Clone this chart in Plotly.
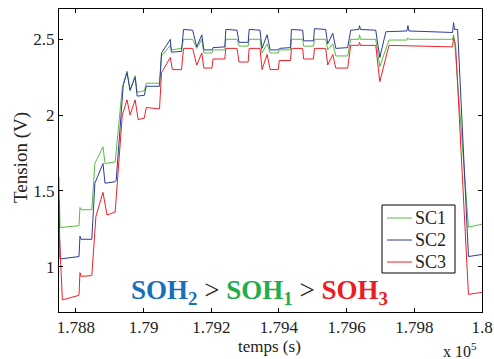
import plotly.graph_objects as go

# time in seconds
t_sc1 = [178750, 178753, 178809, 178812, 178815, 178847, 178856, 178880, 178886, 178916,
         178937, 178951, 178960, 178975, 178981, 179002, 179008, 179047, 179053, 179079,
         179082, 179112, 179118, 179145, 179157, 179172, 179178, 179202, 179205, 179240,
         179243, 179276, 179282, 179309, 179312, 179344, 179350, 179365, 179374, 179398,
         179401, 179434, 179437, 179470, 179473, 179502, 179505, 179538, 179544, 179559,
         179568, 179603, 179612, 179636, 179638, 179641, 179686, 179698, 179725, 179778,
         179781, 179784, 179913, 179916, 179919, 179960, 180000]
v_sc1 = [1.59, 1.257, 1.27, 1.39, 1.375, 1.375, 1.68, 1.79, 1.68, 1.69,
         2.18, 2.29, 2.16, 2.26, 2.15, 2.16, 2.21, 2.21, 2.39, 2.46,
         2.43, 2.44, 2.50, 2.50, 2.44, 2.50, 2.41, 2.41, 2.43, 2.43,
         2.50, 2.50, 2.455, 2.455, 2.50, 2.50, 2.41, 2.47, 2.41, 2.41,
         2.43, 2.43, 2.50, 2.50, 2.455, 2.455, 2.50, 2.50, 2.43, 2.47,
         2.39, 2.39, 2.50, 2.50, 2.53, 2.50, 2.50, 2.32, 2.495, 2.495,
         2.51, 2.50, 2.50, 2.53, 2.49, 1.26, 1.28]

t_sc2 = [178750, 178753, 178809, 178812, 178815, 178847, 178856, 178880, 178886, 178916,
         178919, 178940, 178951, 178960, 178975, 178981, 179002, 179008, 179047, 179053,
         179079, 179082, 179112, 179118, 179145, 179157, 179172, 179178, 179202, 179205,
         179240, 179243, 179276, 179282, 179309, 179312, 179344, 179350, 179365, 179374,
         179398, 179401, 179434, 179437, 179470, 179473, 179502, 179505, 179538, 179544,
         179559, 179568, 179603, 179612, 179636, 179638, 179641, 179686, 179698, 179716,
         179778, 179781, 179784, 179913, 179916, 179919, 179928, 179960, 180000]
v_sc2 = [1.44, 1.05, 1.066, 1.20, 1.18, 1.18, 1.55, 1.68, 1.55, 1.56,
         1.57, 2.20, 2.28, 2.165, 2.25, 2.125, 2.13, 2.19, 2.19, 2.41,
         2.50, 2.415, 2.42, 2.565, 2.56, 2.45, 2.53, 2.43, 2.43, 2.445,
         2.45, 2.565, 2.56, 2.48, 2.48, 2.565, 2.56, 2.44, 2.53, 2.43,
         2.43, 2.44, 2.445, 2.565, 2.56, 2.49, 2.49, 2.57, 2.565, 2.47,
         2.54, 2.44, 2.445, 2.56, 2.565, 2.59, 2.565, 2.56, 2.38, 2.55,
         2.555, 2.59, 2.555, 2.545, 2.61, 2.565, 2.565, 1.066, 1.08]

t_sc3 = [178750, 178760, 178809, 178812, 178815, 178847, 178859, 178880, 178892, 178916,
         178937, 178951, 178960, 178975, 178984, 179002, 179008, 179047, 179053, 179079,
         179085, 179112, 179118, 179145, 179157, 179172, 179178, 179202, 179205, 179240,
         179243, 179276, 179282, 179309, 179312, 179344, 179350, 179365, 179374, 179398,
         179401, 179434, 179437, 179470, 179473, 179502, 179505, 179538, 179544, 179559,
         179568, 179603, 179612, 179636, 179638, 179641, 179686, 179698, 179725, 179913,
         179916, 179922, 179960, 180000]
v_sc3 = [1.26, 0.78, 0.81, 0.96, 0.935, 0.94, 1.33, 1.49, 1.34, 1.36,
         2.00, 2.10, 2.00, 2.10, 1.97, 1.98, 2.05, 2.04, 2.28, 2.38,
         2.30, 2.30, 2.44, 2.44, 2.33, 2.41, 2.31, 2.31, 2.37, 2.37,
         2.44, 2.44, 2.35, 2.35, 2.44, 2.44, 2.30, 2.40, 2.30, 2.30,
         2.36, 2.36, 2.44, 2.44, 2.37, 2.37, 2.44, 2.44, 2.33, 2.40,
         2.31, 2.31, 2.46, 2.46, 2.48, 2.46, 2.46, 2.22, 2.46, 2.45,
         2.51, 2.46, 0.816, 0.83]

series_names = ["SC1", "SC2", "SC3"]
x_tickvals = [178800, 179000, 179200, 179400, 179600, 179800, 180000]
x_ticktext = ["1.788", "1.79", "1.792", "1.794", "1.796", "1.798", "1.8"]
y_tickvals = [1, 1.5, 2, 2.5]
y_ticktext = ["1", "1.5", "2", "2.5"]

colors = ["#5cb946", "#2b3c9c", "#ee2127"]
FONT = "Times New Roman, Liberation Serif, serif"
TXT = "#222222"

W, H = 494, 359
L, R, T, B = 59, 12, 9, 47
PW, PH = W - L - R, H - T - B


def px(xpix):
    return (xpix - L) / PW


def py(ypix):
    return (H - B - ypix) / PH


fig = go.Figure()
for t, v, name, c in zip([t_sc1, t_sc2, t_sc3], [v_sc1, v_sc2, v_sc3], series_names, colors):
    fig.add_trace(go.Scatter(x=t, y=v, mode="lines", name=name,
                             line=dict(color=c, width=1), showlegend=False))

axis_common = dict(showline=True, linecolor="black", linewidth=1, mirror="ticks",
                   ticks="inside", ticklen=4, tickcolor="black", showgrid=False,
                   zeroline=False, automargin=False)

fig.update_xaxes(range=[178750, 180000], tickvals=x_tickvals, ticktext=x_ticktext,
                 tickfont=dict(family=FONT, size=17, color=TXT), **axis_common)
fig.update_yaxes(range=[0.7, 2.7], tickvals=y_tickvals, ticktext=y_ticktext,
                 tickfont=dict(family=FONT, size=17, color=TXT), **axis_common)

# axis titles
fig.add_annotation(text="temps (s)", xref="paper", yref="paper", x=px(269), y=py(346),
                   xanchor="center", yanchor="middle", showarrow=False,
                   font=dict(family=FONT, size=17, color=TXT))
fig.add_annotation(text="Tension (V)", xref="paper", yref="paper", x=px(21), y=py(158),
                   xanchor="center", yanchor="middle", showarrow=False, textangle=-90,
                   font=dict(family=FONT, size=19, color=TXT))
fig.add_annotation(text="x 10<sup>5</sup>", xref="paper", yref="paper", x=px(460), y=py(350),
                   xanchor="center", yanchor="middle", showarrow=False,
                   font=dict(family=FONT, size=16, color=TXT))

soh = ("<b><span style='color:#1a6fba'>SOH<sub>2</sub></span></b>"
       "<span style='color:#231f20'> &gt; </span>"
       "<b><span style='color:#22ad4b'>SOH<sub>1</sub></span></b>"
       "<span style='color:#231f20'> &gt; </span>"
       "<b><span style='color:#ed1c24'>SOH<sub>3</sub></span></b>")
fig.add_annotation(text=soh, xref="paper", yref="paper", x=px(259), y=py(292),
                   xanchor="center", yanchor="middle", showarrow=False,
                   font=dict(family=FONT, size=27))

# legend box (drawn)
fig.add_shape(type="rect", xref="paper", yref="paper",
              x0=px(382), x1=px(455), y0=py(273), y1=py(205),
              line=dict(color="black", width=1), fillcolor="white", layer="above")
for i, (name, c) in enumerate(zip(series_names, colors)):
    yc = 218 + 22 * i
    fig.add_shape(type="line", xref="paper", yref="paper",
                  x0=px(387), x1=px(412), y0=py(yc), y1=py(yc),
                  line=dict(color=c, width=1), layer="above")
    fig.add_annotation(text=name, xref="paper", yref="paper", x=px(413), y=py(yc),
                       xanchor="left", yanchor="middle", showarrow=False,
                       font=dict(family=FONT, size=18, color=TXT))

fig.update_layout(
    width=W, height=H,
    margin=dict(l=L, r=R, t=T, b=B, autoexpand=False),
    paper_bgcolor="white", plot_bgcolor="white",
    showlegend=False,
)

fig.write_html("out.html", config={"displayModeBar": False},
               post_script="document.body.style.margin='0';document.body.style.padding='0';")
